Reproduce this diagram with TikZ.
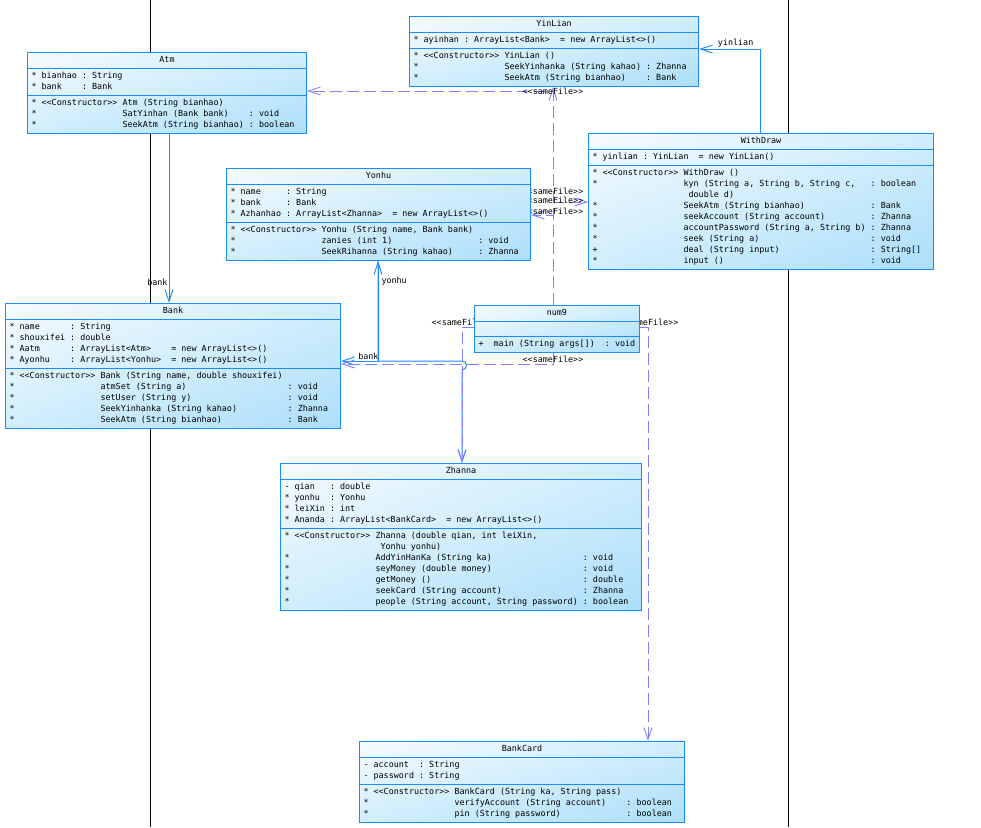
\documentclass[tikz,border=0pt]{standalone}
\usepackage{fontspec}
\setmonofont{DejaVu Sans Mono}
\usetikzlibrary{shapes.multipart,arrows.meta,shadings}
\definecolor{umlblue}{RGB}{30,140,245}
\definecolor{umlpurple}{RGB}{128,128,250}
\definecolor{fillA}{RGB}{246,251,254}
\definecolor{fillB}{RGB}{208,238,252}
\definecolor{fillC}{RGB}{172,222,250}
\pgfdeclarelayer{bg}
\pgfsetlayers{bg,main}

\begin{document}
\begin{tikzpicture}[x=1pt,y=-1pt,
	>={Straight Barb[length=12pt,width=8pt]},
	umlclass/.style={rectangle split, rectangle split parts=3,
		rectangle split part align={center,left,left},
		draw=umlblue, line width=1pt, shade,
		upper left=fillA, upper right=fillB, lower left=fillB, lower right=fillC,
		anchor=north west, inner xsep=4pt, inner ysep=2pt,
		font=\ttfamily\fontsize{8.4}{11}\selectfont},
	assoc/.style={draw=umlblue, line width=1pt},
	dep/.style={draw=umlpurple, line width=0.9pt, dash pattern=on 12pt off 5pt},
	lbl/.style={font=\ttfamily\fontsize{8.4}{10}\selectfont, inner sep=1pt},
	pageline/.style={draw=black, line width=1pt}]
	\useasboundingbox (0,0) rectangle (981,827);
	
	\node[umlclass, minimum width=279pt] (atm) at (27,52) {\strut Atm
		\nodepart{two}\begin{tabular}{@{}l@{~}l@{~}l@{}}
			{*} & bianhao & : String \\
			{*} & bank & : Bank
		\end{tabular}
		\nodepart{three}\begin{tabular}{@{}l@{~}l@{~}l@{~}l@{}}
			{*} & <<Constructor>> & Atm (String bianhao) & \\
			{*} & & SatYinhan (Bank bank) & : void \\
			{*} & & SeekAtm (String bianhao) & : boolean
		\end{tabular}};
	
	\node[umlclass, minimum width=289pt] (yinlian) at (409,16) {\strut YinLian
		\nodepart{two}\begin{tabular}{@{}l@{~}l@{~}l@{~~}l@{}}
			{*} & ayinhan & : ArrayList<Bank> & = new ArrayList<>()
		\end{tabular}
		\nodepart{three}\begin{tabular}{@{}l@{~}l@{~}l@{~}l@{}}
			{*} & <<Constructor>> & YinLian () & \\
			{*} & & SeekYinhanka (String kahao) & : Zhanna \\
			{*} & & SeekAtm (String bianhao) & : Bank
		\end{tabular}};
	
	\node[umlclass, minimum width=345pt] (withdraw) at (588,133) {\strut WithDraw
		\nodepart{two}\begin{tabular}{@{}l@{~}l@{~}l@{~~}l@{}}
			{*} & yinlian & : YinLian & = new YinLian()
		\end{tabular}
		\nodepart{three}\begin{tabular}{@{}l@{~}l@{~}l@{~}l@{}}
			{*} & <<Constructor>> & WithDraw () & \\
			{*} & & kyn (String a, String b, String c, & : boolean \\
			& & ~double d) & \\
			{*} & & SeekAtm (String bianhao) & : Bank \\
			{*} & & seekAccount (String account) & : Zhanna \\
			{*} & & accountPassword (String a, String b) & : Zhanna \\
			{*} & & seek (String a) & : void \\
			+ & & deal (String input) & : String[] \\
			{*} & & input () & : void
		\end{tabular}};
	
	\node[umlclass, minimum width=304pt] (yonhu) at (226,168) {\strut Yonhu
		\nodepart{two}\begin{tabular}{@{}l@{~}l@{~}l@{~~}l@{}}
			{*} & name & : String & \\
			{*} & bank & : Bank & \\
			{*} & Azhanhao & : ArrayList<Zhanna> & = new ArrayList<>()
		\end{tabular}
		\nodepart{three}\begin{tabular}{@{}l@{~}l@{~}l@{~}l@{}}
			{*} & <<Constructor>> & Yonhu (String name, Bank bank) & \\
			{*} & & zanies (int 1) & : void \\
			{*} & & SeekRihanna (String kahao) & : Zhanna
		\end{tabular}};
	
	\node[umlclass, minimum width=335pt] (bank) at (5,303) {\strut Bank
		\nodepart{two}\begin{tabular}{@{}l@{~}l@{~}l@{~~}l@{}}
			{*} & name & : String & \\
			{*} & shouxifei & : double & \\
			{*} & Aatm & : ArrayList<Atm> & = new ArrayList<>() \\
			{*} & Ayonhu & : ArrayList<Yonhu> & = new ArrayList<>()
		\end{tabular}
		\nodepart{three}\begin{tabular}{@{}l@{~}l@{~}l@{~}l@{}}
			{*} & <<Constructor>> & Bank (String name, double shouxifei) & \\
			{*} & & atmSet (String a) & : void \\
			{*} & & setUser (String y) & : void \\
			{*} & & SeekYinhanka (String kahao) & : Zhanna \\
			{*} & & SeekAtm (String bianhao) & : Bank
		\end{tabular}};
	
	\node[umlclass, minimum width=159pt] (num9) at (474,305) {\strut num9
		\nodepart{two}\rule{0pt}{10pt}
		\nodepart{three}\begin{tabular}{@{}l@{~}l@{~}l@{~~}l@{}}
			+ & & main (String args[]) & : void
		\end{tabular}};
	
	\node[umlclass, minimum width=361pt] (zhanna) at (280,463) {\strut Zhanna
		\nodepart{two}\begin{tabular}{@{}l@{~}l@{~}l@{~~}l@{}}
			- & qian & : double & \\
			{*} & yonhu & : Yonhu & \\
			{*} & leiXin & : int & \\
			{*} & Ananda & : ArrayList<BankCard> & = new ArrayList<>()
		\end{tabular}
		\nodepart{three}\begin{tabular}{@{}l@{~}l@{~}l@{~}l@{}}
			{*} & <<Constructor>> & Zhanna (double qian, int leiXin, & \\
			& & ~Yonhu yonhu) & \\
			{*} & & AddYinHanKa (String ka) & : void \\
			{*} & & seyMoney (double money) & : void \\
			{*} & & getMoney () & : double \\
			{*} & & seekCard (String account) & : Zhanna \\
			{*} & & people (String account, String password) & : boolean
		\end{tabular}};
	
	\node[umlclass, minimum width=325pt] (bankcard) at (359,741) {\strut BankCard
		\nodepart{two}\begin{tabular}{@{}l@{~}l@{~}l@{}}
			- & account & : String \\
			- & password & : String
		\end{tabular}
		\nodepart{three}\begin{tabular}{@{}l@{~}l@{~}l@{~}l@{}}
			{*} & <<Constructor>> & BankCard (String ka, String pass) & \\
			{*} & & verifyAccount (String account) & : boolean \\
			{*} & & pin (String password) & : boolean
		\end{tabular}};
	
	\begin{pgfonlayer}{bg}
		\draw[pageline] (150,0) -- (150,827);
		\draw[pageline] (788,0) -- (788,827);
		% associations
		\draw[assoc,->] ([xshift=142pt]atm.south west) -- node[lbl,pos=0.88,left]{bank} ([xshift=164pt]bank.north west);
		\draw[assoc,->] ([xshift=172pt]withdraw.north west) |- node[lbl,pos=0.7,above]{yinlian} ([yshift=-33pt]yinlian.north east);
		\draw[assoc,<->] ([yshift=-58pt]bank.north east) -| node[lbl,pos=0.37,above]{bank} node[lbl,pos=0.9,right=2pt]{yonhu} ([xshift=152pt]yonhu.south west);
		\draw[assoc,->] ([xshift=152pt]yonhu.south west) |- ([xshift=182pt,yshift=102pt]zhanna.north west) arc[start angle=90,end angle=-90,radius=4.5pt] -- ([xshift=182pt]zhanna.north west);
		% sameFile
		\draw[dep,->] ([xshift=79pt]num9.north west) -- node[lbl,pos=0.522]{<<sameFile>>} ([xshift=144pt]yinlian.south west);
		\draw[dep,->] ([xshift=79pt]num9.north west) |- node[lbl,pos=0.5]{<<sameFile>>} ([yshift=-39pt]atm.north east);
		\draw[dep,->] ([xshift=79pt]num9.north west) |- node[lbl,pos=0.5,yshift=2pt]{<<sameFile>>} ([yshift=-69pt]withdraw.north west);
		\draw[dep,->] ([xshift=79pt]num9.north west) |- node[lbl,pos=0.5,yshift=4pt]{<<sameFile>>} ([yshift=-47pt]yonhu.north east);
		\draw[dep,->] ([yshift=-22pt]num9.north west) -| node[lbl,pos=0.5,above]{<<sameFile>>} ([xshift=182pt]zhanna.north west);
		\draw[dep,->] ([yshift=-22pt]num9.north east) -| node[lbl,pos=0.5,above]{<<sameFile>>} ([xshift=289pt]bankcard.north west);
		\draw[dep,->] ([xshift=79pt]num9.south west) |- node[lbl,pos=0.5,above]{<<sameFile>>} ([yshift=-61pt]bank.north east);
	\end{pgfonlayer}
	
\end{tikzpicture}
\end{document}
